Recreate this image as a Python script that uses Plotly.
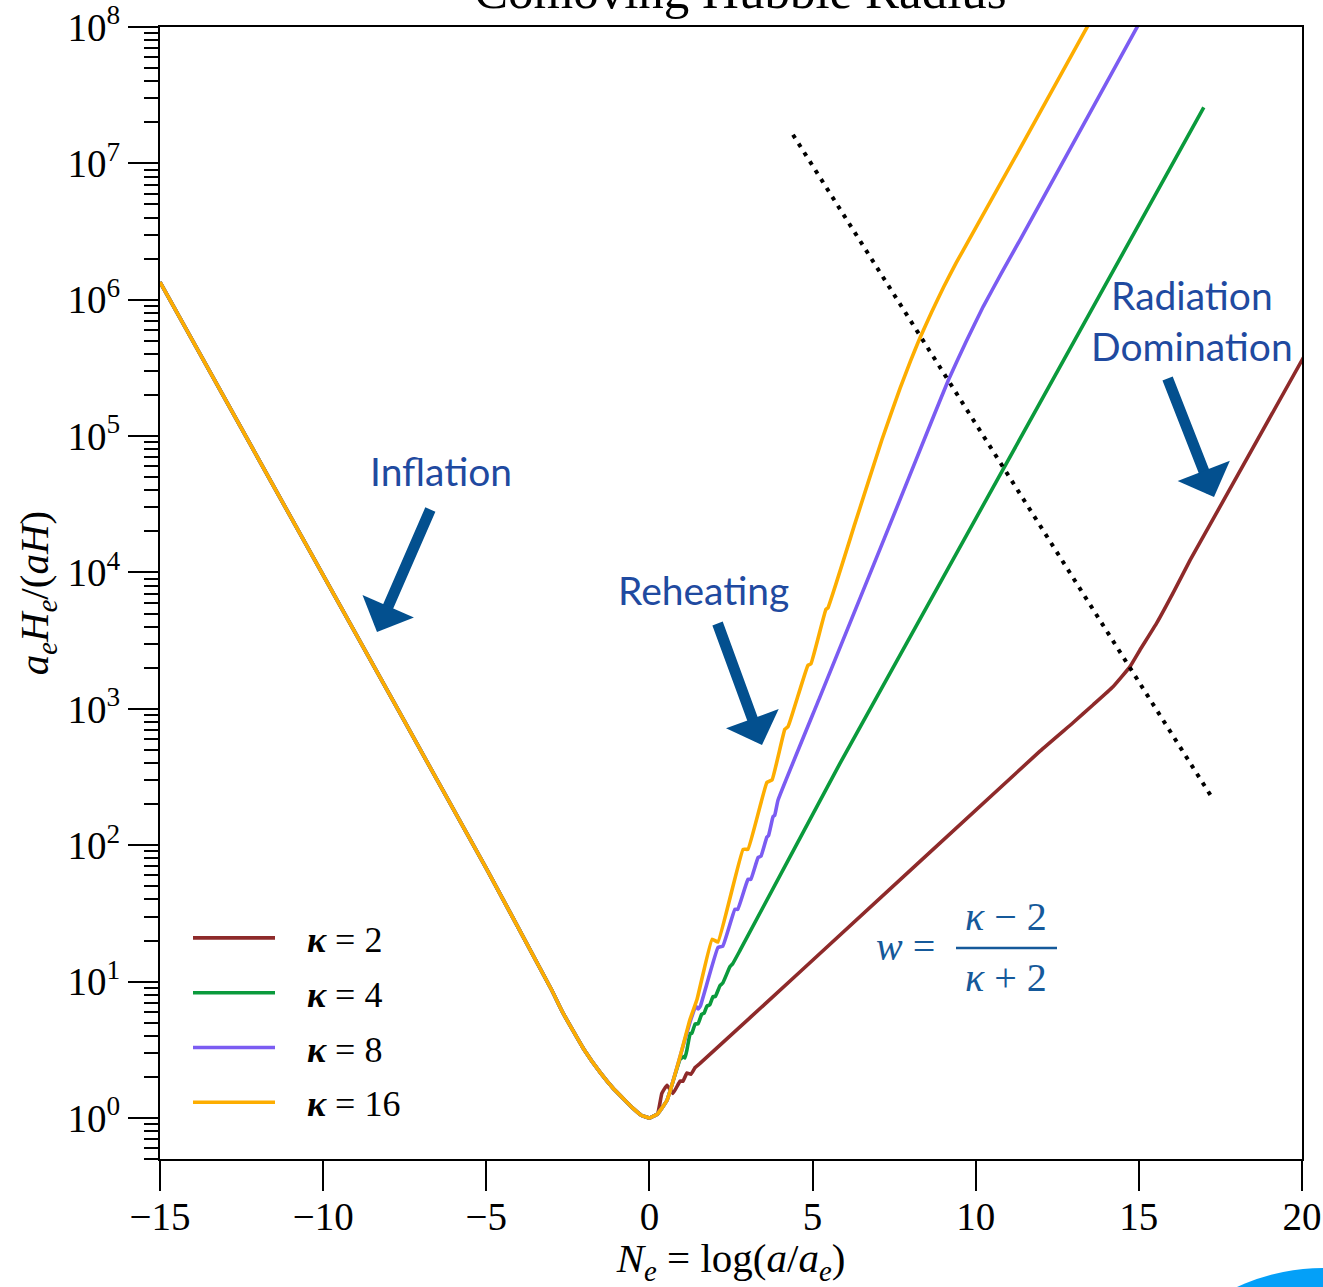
import plotly.graph_objects as go

# ---------------- data ----------------
# Shared inflation branch: N_e and log10(a_e H_e / (a H))
inflation_N = [-15, -10, -5, -3, -2.65, -2, -1.5, -1.12, -0.75, -0.5, -0.25, 0, 0.25]
inflation_log10 = [6.13, 3.98, 1.83, 0.94, 0.77, 0.50, 0.33, 0.22, 0.13, 0.07, 0.02, 0.0, 0.03]

# Post-inflation branches (reheating + radiation), N_e and log10 values
k2_N = [0.38, 0.54, 0.72, 0.94, 1.03, 1.15, 1.27, 1.40, 1.55, 4.61, 11.97, 12.99, 13.6, 14.2, 14.73,
        15.03, 15.55, 16.05, 16.57, 20.1]
k2_log10 = [0.18, 0.24, 0.18, 0.27, 0.27, 0.33, 0.32, 0.37, 0.40, 1.07, 2.69, 2.90, 3.03, 3.16, 3.31,
            3.43, 3.63, 3.85, 4.09, 5.60]

k4_N = [0.54, 0.94, 1.05, 1.09, 1.15, 1.25, 1.30, 1.40, 1.49, 1.60, 1.68, 1.76, 1.85, 1.95, 2.02,
        2.16, 2.25, 2.47, 2.55, 2.78, 5.84, 16.99]
k4_log10 = [0.13, 0.43, 0.45, 0.44, 0.50, 0.62, 0.62, 0.69, 0.69, 0.76, 0.77, 0.82, 0.83, 0.89, 0.89,
            0.97, 0.99, 1.11, 1.13, 1.23, 2.60, 7.41]

k8_N = [0.54, 0.94, 1.24, 1.42, 1.49, 1.56, 2.10, 2.25, 2.62, 2.71, 3.02, 3.11, 3.33, 3.42, 3.60,
        3.65, 3.79, 3.84, 3.94, 5.23, 7.2, 8.7, 9.16, 9.7, 10.23, 10.8, 11.36, 15.2]
k8_log10 = [0.13, 0.45, 0.70, 0.82, 0.80, 0.82, 1.25, 1.26, 1.53, 1.53, 1.75, 1.75, 1.91, 1.92, 2.06,
            2.07, 2.21, 2.22, 2.33, 3.09, 4.25, 5.14, 5.41, 5.69, 5.95, 6.20, 6.44, 8.11]

k16_N = [0.54, 0.94, 1.24, 1.46, 1.92, 2.10, 2.87, 3.02, 3.60, 3.76, 4.15, 4.25, 4.52, 4.86, 4.95,
         5.41, 5.47, 6.3, 7.12, 7.68, 8.0, 8.29, 8.65, 9.01, 9.4, 9.82, 11.5, 13.6]
k16_log10 = [0.13, 0.45, 0.72, 0.87, 1.31, 1.29, 1.97, 1.97, 2.46, 2.48, 2.85, 2.87, 3.07, 3.32, 3.33,
             3.73, 3.74, 4.36, 4.97, 5.35, 5.55, 5.72, 5.91, 6.09, 6.27, 6.45, 7.17, 8.08]

# End of reheating guide line
guide_N = [4.40, 17.24]
guide_log10 = [7.21, 2.35]

kappas = ["2", "4", "8", "16"]
colors = ["#8e2a2a", "#0a9a3c", "#7b5cf2", "#fdad00"]

x_ticks = [-15, -10, -5, 0, 5, 10, 15, 20]
y_decades = [0, 1, 2, 3, 4, 5, 6, 7, 8]

# ---------------- figure geometry ----------------
W, H = 1323, 1287
ML, MR, MT, MB = 160, 21, 27, 128
PW, PH = W - ML - MR, H - MT - MB


def pxx(x):
    return (x - ML) / PW


def pxy(y):
    return (H - MB - y) / PH


fig = go.Figure()

branches = [(k2_N, k2_log10), (k4_N, k4_log10), (k8_N, k8_log10), (k16_N, k16_log10)]
for kap, col, (bn, bl) in zip(kappas, colors, branches):
    N = inflation_N + bn
    Y = [10 ** v for v in inflation_log10 + bl]
    fig.add_trace(go.Scatter(
        x=N, y=Y, mode="lines", line=dict(color=col, width=3.6, shape="spline", smoothing=0.3),
        name="&nbsp;&nbsp;&nbsp;<b><i>κ</i></b>&nbsp;=&nbsp;" + kap, legendgroup=kap))

fig.add_trace(go.Scatter(
    x=guide_N, y=[10 ** v for v in guide_log10], mode="lines",
    line=dict(color="black", width=4, dash="4px,6.5px"), showlegend=False))

serif = "Liberation Serif"
axis_common = dict(showline=True, linecolor="black", linewidth=2, mirror=True,
                   ticks="outside", tickwidth=2, tickcolor="black", ticklen=30,
                   showgrid=False, zeroline=False,
                   tickfont=dict(family=serif, size=39, color="black"))

fig.update_xaxes(range=[-15, 20], tickvals=x_ticks, ticklabelstandoff=-8, **axis_common,
                 title=dict(text="<i>N<sub>e</sub></i>&nbsp;=&nbsp;log(<i>a</i>/<i>a<sub>e</sub></i>)",
                            font=dict(family=serif, size=41, color="black"), standoff=12))
fig.update_yaxes(type="log", range=[-0.30103, 8.0002],
                 tickvals=[10 ** d for d in y_decades],
                 ticktext=["10<sup>%d</sup>" % d for d in y_decades],
                 minor=dict(ticks="outside", ticklen=14, tickwidth=2, tickcolor="black", dtick="D1"),
                 **axis_common,
                 title=dict(text="<i>a<sub>e</sub>H<sub>e</sub></i>/(<i>aH</i>)",
                            font=dict(family=serif, size=41, color="black"), standoff=6))

label_font = dict(family="Lato", size=39, color="#1f4aa0")
formula_color = "#15599a"
arrow_color = "#03508f"

ann = []


def text_ann(text, x, y, font):
    return dict(text=text, x=pxx(x), y=pxy(y), xref="paper", yref="paper", showarrow=False,
                xanchor="center", yanchor="middle", font=font)


ann.append(text_ann("Comoving Hubble Radius", 740, -9, dict(family=serif, size=51, color="black")))
ann.append(text_ann("Inflation", 441, 471, label_font))
ann.append(text_ann("Reheating", 703, 590, label_font))
ann.append(text_ann("Radiation<br>Domination", 1192, 321, label_font))

for tail, tip in [((431, 508), (377, 632)), ((717, 622), (762, 745)), ((1167, 377), (1214, 497))]:
    ann.append(dict(text="", x=pxx(tip[0]), y=pxy(tip[1]), xref="paper", yref="paper",
                    ax=tail[0] - tip[0], ay=tail[1] - tip[1], axref="pixel", ayref="pixel",
                    showarrow=True, arrowhead=1, arrowwidth=11, arrowsize=0.85,
                    arrowcolor=arrow_color, standoff=0))

ffont = dict(family=serif, size=40, color=formula_color)
ann.append(text_ann("<i>w</i>&nbsp;=", 905, 946, ffont))
ann.append(text_ann("<i>κ</i> − 2", 1006, 916, ffont))
ann.append(text_ann("<i>κ</i> + 2", 1006, 977, ffont))

shapes = [
    dict(type="line", xref="paper", yref="paper", x0=pxx(956), x1=pxx(1057), y0=pxy(948), y1=pxy(948),
         line=dict(color=formula_color, width=2.5)),
    dict(type="circle", xref="paper", yref="paper", x0=pxx(1119), x1=pxx(1527), y0=pxy(1268), y1=pxy(1676),
         fillcolor="#04a0f8", line=dict(width=0), layer="above"),
]

fig.update_layout(
    width=W, height=H,
    margin=dict(l=ML, r=MR, t=MT, b=MB, autoexpand=False),
    plot_bgcolor="white", paper_bgcolor="white",
    annotations=ann, shapes=shapes,
    showlegend=True,
    legend=dict(x=pxx(188), y=pxy(908), xanchor="left", yanchor="top",
                font=dict(family=serif, size=36, color="black"),
                bgcolor="rgba(0,0,0,0)", tracegroupgap=5, itemwidth=82),
)

fig.write_html("out.html", config={"displayModeBar": False},
               post_script="document.body.style.margin='0';")
